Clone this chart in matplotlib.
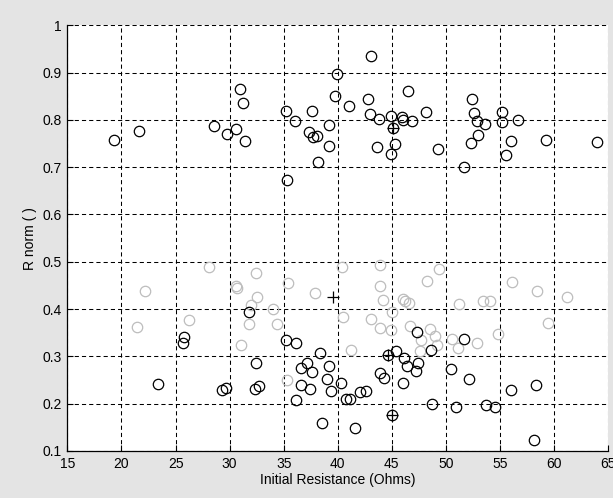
import matplotlib
matplotlib.use("Agg")
import matplotlib.pyplot as plt

# black circles (x = initial resistance, y = R norm)
black_x = [19.3, 21.6, 28.6, 29.75, 30.6, 31.0, 31.2, 31.4, 35.2, 36.0,
           35.3, 37.6, 37.35, 37.75, 38.1, 38.2, 39.2, 39.2, 39.7, 39.9,
           43.1, 42.8, 41.0, 42.95, 43.85, 44.95, 45.1, 45.95, 46.0, 46.9,
           46.5, 48.2, 43.6, 45.3, 44.9, 49.25, 51.65, 52.4, 52.6, 52.85,
           53.6, 52.95, 52.35, 55.15, 55.2, 56.65, 56.05, 55.6, 59.3, 64.0,
           31.75, 25.8, 25.65, 23.4, 29.3, 29.65, 32.3, 32.7, 32.45, 35.2,
           36.15, 38.4, 37.15, 36.6, 37.6, 39.2, 39.0, 36.6, 37.4, 39.4,
           40.3, 36.1, 40.8, 41.1, 42.1, 42.65, 38.55, 41.6, 47.35, 51.65,
           48.65, 45.35, 44.65, 46.1, 47.45, 46.4, 47.2, 50.5, 52.15, 43.95,
           44.25, 46.0, 48.75, 50.9, 53.7, 54.55, 45.05, 56.0, 58.3, 58.15]
black_y = [0.758, 0.777, 0.787, 0.771, 0.780, 0.866, 0.835, 0.756, 0.818, 0.797,
           0.672, 0.818, 0.775, 0.763, 0.766, 0.711, 0.790, 0.745, 0.851, 0.896,
           0.934, 0.845, 0.830, 0.812, 0.801, 0.808, 0.782, 0.806, 0.799, 0.798,
           0.861, 0.816, 0.743, 0.749, 0.727, 0.739, 0.700, 0.843, 0.815, 0.797,
           0.791, 0.768, 0.751, 0.816, 0.795, 0.799, 0.756, 0.725, 0.758, 0.753,
           0.394, 0.340, 0.328, 0.241, 0.229, 0.234, 0.230, 0.237, 0.287, 0.334,
           0.328, 0.308, 0.287, 0.276, 0.267, 0.280, 0.252, 0.239, 0.231, 0.226,
           0.243, 0.208, 0.210, 0.210, 0.224, 0.227, 0.160, 0.148, 0.351, 0.337,
           0.314, 0.312, 0.302, 0.297, 0.287, 0.279, 0.270, 0.273, 0.252, 0.264,
           0.255, 0.244, 0.200, 0.194, 0.197, 0.194, 0.176, 0.228, 0.239, 0.123]

# light grey circles
grey_x = [28.05, 22.2, 21.45, 26.2, 30.6, 30.7, 32.45, 32.55, 31.95, 31.75,
          31.05, 34.0, 34.4, 35.4, 35.3, 37.85, 40.4, 43.95, 49.35, 48.25,
          43.9, 44.2, 46.0, 46.2, 46.55, 45.0, 51.2, 53.4, 54.1, 56.1,
          58.4, 61.2, 59.4, 54.8, 52.9, 50.6, 51.1, 40.5, 43.1, 43.95,
          44.9, 46.7, 47.7, 48.5, 49.0, 49.2, 47.65, 41.2]
grey_y = [0.489, 0.439, 0.363, 0.376, 0.449, 0.445, 0.476, 0.426, 0.408, 0.368,
          0.323, 0.400, 0.368, 0.456, 0.249, 0.434, 0.489, 0.493, 0.484, 0.460,
          0.448, 0.420, 0.421, 0.418, 0.412, 0.394, 0.410, 0.416, 0.416, 0.458,
          0.439, 0.426, 0.370, 0.347, 0.329, 0.337, 0.318, 0.384, 0.380, 0.360,
          0.356, 0.365, 0.335, 0.358, 0.344, 0.323, 0.312, 0.313]

# plus markers
plus_x = [39.55, 45.1, 44.65, 45.05]
plus_y = [0.426, 0.782, 0.302, 0.176]

x_ticks = [15, 20, 25, 30, 35, 40, 45, 50, 55, 60, 65]
y_ticks = [0.1, 0.2, 0.3, 0.4, 0.5, 0.6, 0.7, 0.8, 0.9, 1.0]
y_labels = ["0.1", "0.2", "0.3", "0.4", "0.5", "0.6", "0.7", "0.8", "0.9", "1"]

plt.rcParams["font.family"] = ["Liberation Sans", "DejaVu Sans"]
plt.rcParams["lines.scale_dashes"] = False

bg = "#e4e4e4"
fig = plt.figure(figsize=(6.13, 4.98), dpi=100, facecolor=bg)
ax = fig.add_axes([0.110, 0.0944, 0.882, 0.855])
ax.set_facecolor("white")

ax.plot(grey_x, grey_y, "o", mfc="none", mec="#bdbdbd", ms=7.5, mew=0.9, zorder=3)
ax.plot(black_x, black_y, "o", mfc="none", mec="black", ms=7.5, mew=0.9, zorder=4)
ax.plot(plus_x, plus_y, "+", color="black", ms=8, mew=0.9, zorder=5)

ax.set_xlim(15, 65)
ax.set_ylim(0.1, 1.0)
ax.set_xticks(x_ticks)
ax.set_yticks(y_ticks)
ax.set_yticklabels(y_labels)

ax.grid(True, color="black", linestyle=(0, (3.0, 2.2)), linewidth=0.75)
ax.set_axisbelow(True)
for s in ["top", "right"]:
    ax.spines[s].set_visible(False)
for s in ["left", "bottom"]:
    ax.spines[s].set_linewidth(0.9)
    ax.spines[s].set_color("black")

ax.tick_params(direction="in", length=4, width=0.8, labelsize=10, pad=4,
               colors="black")

ax.set_xlabel("Initial Resistance (Ohms)", fontsize=10, labelpad=2)
ax.set_ylabel("R norm ( )", fontsize=10, labelpad=4)

fig.savefig("out.png", dpi=100, facecolor=bg)
